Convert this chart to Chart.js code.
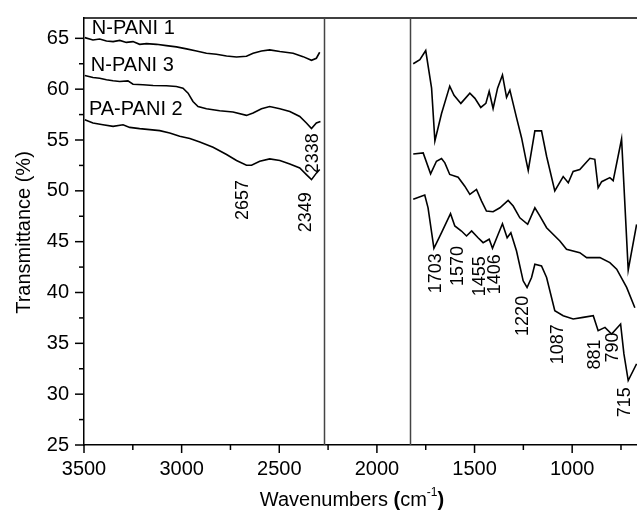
<!DOCTYPE html>
<html>
<head>
<meta charset="utf-8">
<script src="https://cdn.jsdelivr.net/npm/chart.js@4/dist/chart.umd.min.js"></script>
<style>
  html, body { margin: 0; padding: 0; background: #fff; }
  #ftir { display: block; }
</style>
</head>
<body>
<canvas id="ftir" width="637" height="510"></canvas>
<script>
// series names
var seriesNames = ['N-PANI 1', 'N-PANI 3', 'PA-PANI 2'];

// N-PANI 1, high wavenumber part and fingerprint part
var nPani1LeftWave = [3496, 3454, 3420, 3385, 3351, 3317, 3283, 3249, 3215, 3180, 3129, 3078, 3027, 2975, 2924, 2873, 2822, 2770, 2719, 2668, 2634, 2591, 2549, 2497, 2429, 2378, 2335, 2310, 2293];
var nPani1LeftT = [65.07, 64.84, 64.94, 64.74, 64.68, 64.8, 64.6, 64.68, 64.41, 64.48, 64.41, 64.28, 64.16, 63.96, 63.76, 63.53, 63.43, 63.27, 63.17, 63.24, 63.53, 63.76, 63.86, 63.7, 63.53, 63.2, 62.84, 63.04, 63.63];
var nPani1RightWave = [1814, 1780, 1750, 1720, 1703, 1669, 1627, 1605, 1570, 1524, 1498, 1468, 1442, 1425, 1405, 1382, 1357, 1336, 1319, 1285, 1259, 1237, 1225, 1191, 1157, 1131, 1089, 1046, 1020, 995, 961, 909, 884, 867, 849, 807, 790, 747, 713, 670];
var nPani1RightT = [62.5, 62.9, 63.8, 60.1, 54.9, 57.6, 60.3, 59.4, 58.6, 59.6, 59.1, 58.2, 58.6, 59.8, 58.1, 60.1, 61.4, 59.2, 59.9, 57.2, 55.2, 53.1, 52.0, 55.9, 55.9, 53.4, 50.0, 51.4, 50.8, 51.9, 52.1, 53.2, 53.1, 50.3, 50.9, 51.3, 51.0, 55.1, 42.2, 46.7];

// N-PANI 3
var nPani3LeftWave = [3496, 3454, 3420, 3385, 3351, 3317, 3275, 3249, 3198, 3146, 3078, 3027, 2993, 2967, 2942, 2916, 2873, 2805, 2737, 2668, 2634, 2591, 2549, 2497, 2446, 2395, 2361, 2335, 2310, 2289];
var nPani3LeftT = [61.34, 61.15, 61.08, 60.92, 60.82, 60.75, 60.82, 60.49, 60.43, 60.36, 60.33, 60.26, 60.1, 59.61, 58.79, 58.3, 58.08, 57.88, 57.75, 57.42, 57.65, 58.08, 58.3, 58.08, 57.81, 57.32, 56.67, 56.12, 56.67, 56.83];
var nPani3RightWave = [1814, 1763, 1725, 1695, 1669, 1652, 1627, 1584, 1550, 1524, 1490, 1464, 1439, 1405, 1370, 1328, 1302, 1268, 1228, 1191, 1165, 1131, 1063, 1029, 961, 926, 858, 807, 772, 721, 679];
var nPani3RightT = [53.63, 53.73, 51.67, 52.91, 53.18, 52.75, 51.61, 51.34, 50.46, 49.65, 50.14, 48.99, 48.01, 47.94, 48.33, 49.06, 48.5, 47.35, 46.71, 48.33, 47.52, 46.37, 45.07, 44.25, 43.92, 43.43, 43.43, 42.94, 42.29, 40.5, 38.5];

// PA-PANI 2
var paPani2LeftWave = [3496, 3454, 3403, 3351, 3300, 3266, 3215, 3163, 3112, 3061, 3010, 2958, 2907, 2839, 2770, 2719, 2668, 2642, 2600, 2549, 2497, 2446, 2395, 2361, 2335, 2310, 2293];
var paPani2LeftT = [57.0, 56.67, 56.5, 56.34, 56.5, 56.24, 56.12, 56.02, 55.92, 55.69, 55.36, 55.14, 54.8, 54.28, 53.57, 52.98, 52.52, 52.52, 52.91, 53.14, 52.98, 52.65, 52.25, 51.6, 51.1, 51.74, 52.1];
var paPani2RightWave = [1814, 1755, 1738, 1708, 1669, 1623, 1601, 1567, 1541, 1515, 1482, 1456, 1425, 1408, 1379, 1357, 1333, 1314, 1285, 1251, 1231, 1208, 1191, 1157, 1131, 1089, 1046, 995, 944, 892, 867, 832, 798, 752, 735, 713, 670];
var paPani2RightT = [49.16, 49.58, 48.33, 44.35, 45.88, 47.75, 46.54, 46.05, 45.56, 46.05, 45.39, 44.9, 45.24, 44.35, 45.73, 46.76, 45.39, 45.88, 44.08, 41.15, 40.49, 41.47, 42.78, 42.62, 41.47, 38.2, 37.72, 37.39, 37.55, 37.72, 36.25, 36.57, 35.92, 36.9, 33.96, 31.34, 32.98];

// axis ticks
var xMajorTicks = [3500, 3000, 2500, 2000, 1500, 1000];
var xMinorTicks = [3250, 2750, 2250, 1750, 1250, 750];
var yMajorTicks = [25, 30, 35, 40, 45, 50, 55, 60, 65];
var yMinorTicks = [27.5, 32.5, 37.5, 42.5, 47.5, 52.5, 57.5, 62.5];

// axis break (no data recorded between these two wavenumbers)
var breakFrom = 2270;
var breakTo = 1831;

var FONT = "'Liberation Sans', Arial, Helvetica, sans-serif";
Chart.defaults.font.family = FONT;
Chart.defaults.color = '#000';

function toPoints(leftW, leftT, rightW, rightT) {
    var pts = [];
    for (var i = 0; i < leftW.length; i++) pts.push({x: leftW[i], y: leftT[i]});
    pts.push({x: (breakFrom + breakTo) / 2, y: null});
    for (var j = 0; j < rightW.length; j++) pts.push({x: rightW[j], y: rightT[j]});
    return pts;
}

// where the text notes sit, in data units
var seriesNotes = [
    {text: seriesNames[0], x: 3460, y: 65.95},
    {text: seriesNames[1], x: 3465, y: 62.3},
    {text: seriesNames[2], x: 3475, y: 58.0}
];
var peakNotes = [
    {text: '2657', x: 2684, y: 49.1},
    {text: '2349', x: 2362, y: 47.9},
    {text: '2338', x: 2326, y: 53.7},
    {text: '1703', x: 1695, y: 41.9},
    {text: '1570', x: 1584, y: 42.6},
    {text: '1455', x: 1473, y: 41.6},
    {text: '1406', x: 1396, y: 41.8},
    {text: '1220', x: 1251, y: 37.7},
    {text: '1087', x: 1072, y: 34.9},
    {text: '881', x: 884, y: 33.9},
    {text: '790', x: 792, y: 34.6},
    {text: '715', x: 730, y: 29.2}
];

var decorPlugin = {
    id: 'decor',
    afterDraw: function(chart) {
        var ctx = chart.ctx;
        var area = chart.chartArea;
        var xs = chart.scales.x;
        var ys = chart.scales.y;
        ctx.save();

        // top frame line
        ctx.strokeStyle = '#000';
        ctx.lineWidth = 1.5;
        ctx.beginPath();
        ctx.moveTo(area.left, area.top);
        ctx.lineTo(area.right, area.top);
        ctx.stroke();

        // break lines
        ctx.strokeStyle = '#444';
        ctx.lineWidth = 1.5;
        [breakFrom, breakTo].forEach(function(w) {
            var px = Math.round(xs.getPixelForValue(w)) + 0.5;
            ctx.beginPath();
            ctx.moveTo(px, area.top);
            ctx.lineTo(px, area.bottom);
            ctx.stroke();
        });

        // tick marks
        ctx.strokeStyle = '#000';
        ctx.lineWidth = 1.5;
        function xTick(v, len) {
            var px = xs.getPixelForValue(v);
            ctx.beginPath();
            ctx.moveTo(px, area.bottom);
            ctx.lineTo(px, area.bottom + len);
            ctx.stroke();
        }
        function yTick(v, len) {
            var py = ys.getPixelForValue(v);
            ctx.beginPath();
            ctx.moveTo(area.left, py);
            ctx.lineTo(area.left - len, py);
            ctx.stroke();
        }
        xMajorTicks.forEach(function(v) { xTick(v, 8); });
        xMinorTicks.forEach(function(v) { xTick(v, 5); });
        yMajorTicks.forEach(function(v) { yTick(v, 9); });
        yMinorTicks.forEach(function(v) { yTick(v, 5); });

        ctx.fillStyle = '#000';

        // series names
        ctx.font = '20px ' + FONT;
        ctx.textAlign = 'left';
        ctx.textBaseline = 'middle';
        seriesNotes.forEach(function(n) {
            ctx.fillText(n.text, xs.getPixelForValue(n.x), ys.getPixelForValue(n.y));
        });

        // peak positions, rotated
        ctx.font = '18px ' + FONT;
        ctx.textAlign = 'center';
        peakNotes.forEach(function(n) {
            ctx.save();
            ctx.translate(xs.getPixelForValue(n.x), ys.getPixelForValue(n.y));
            ctx.rotate(-Math.PI / 2);
            ctx.fillText(n.text, 0, 0);
            ctx.restore();
        });

        // y axis title
        ctx.save();
        ctx.font = '20px ' + FONT;
        ctx.translate(24, (area.top + area.bottom) / 2 + 1);
        ctx.rotate(-Math.PI / 2);
        ctx.textAlign = 'center';
        ctx.textBaseline = 'middle';
        ctx.fillText('Transmittance (%)', 0, 0);
        ctx.restore();

        // x axis title with superscript
        var parts = [
            {t: 'Wavenumbers ', f: '20px ', dy: 0},
            {t: '(', f: 'bold 20px ', dy: 0},
            {t: 'cm', f: '20px ', dy: 0},
            {t: '-1', f: '12px ', dy: -10},
            {t: ')', f: 'bold 20px ', dy: 0}
        ];
        var total = 0;
        parts.forEach(function(p) { ctx.font = p.f + FONT; p.w = ctx.measureText(p.t).width; total += p.w; });
        var cx = 352 - total / 2;
        var base = 506;
        ctx.textAlign = 'left';
        ctx.textBaseline = 'alphabetic';
        parts.forEach(function(p) {
            ctx.font = p.f + FONT;
            ctx.fillText(p.t, cx, base + p.dy);
            cx += p.w;
        });

        ctx.restore();
    }
};

var lineStyle = {
    borderColor: '#000',
    borderWidth: 1.6,
    pointRadius: 0,
    fill: false,
    tension: 0,
    spanGaps: false
};

new Chart(document.getElementById('ftir').getContext('2d'), {
    type: 'line',
    data: {
        datasets: [
            Object.assign({label: seriesNames[0], data: toPoints(nPani1LeftWave, nPani1LeftT, nPani1RightWave, nPani1RightT)}, lineStyle),
            Object.assign({label: seriesNames[1], data: toPoints(nPani3LeftWave, nPani3LeftT, nPani3RightWave, nPani3RightT)}, lineStyle),
            Object.assign({label: seriesNames[2], data: toPoints(paPani2LeftWave, paPani2LeftT, paPani2RightWave, paPani2RightT)}, lineStyle)
        ]
    },
    options: {
        responsive: false,
        animation: false,
        layout: { padding: { top: 16, right: 0, left: 0, bottom: 0 } },
        plugins: {
            legend: { display: false },
            tooltip: { enabled: false }
        },
        scales: {
            x: {
                type: 'linear',
                reverse: true,
                min: 668,
                max: 3500,
                afterBuildTicks: function(scale) {
                    scale.ticks = xMajorTicks.map(function(v) { return {value: v}; });
                },
                afterFit: function(scale) { scale.height = 65; },
                grid: { drawOnChartArea: false, color: 'rgba(0,0,0,0)', tickLength: 8 },
                border: { display: true, color: '#000', width: 1.5 },
                ticks: {
                    font: { size: 20 },
                    color: '#000',
                    padding: 4,
                    maxRotation: 0,
                    autoSkip: false,
                    callback: function(value) { return String(value); }
                }
            },
            y: {
                min: 25,
                max: 67,
                afterBuildTicks: function(scale) {
                    scale.ticks = yMajorTicks.map(function(v) { return {value: v}; });
                },
                afterFit: function(scale) { scale.width = 84; },
                grid: { drawOnChartArea: false, color: 'rgba(0,0,0,0)', tickLength: 9 },
                border: { display: true, color: '#000', width: 1.5 },
                ticks: {
                    font: { size: 20 },
                    color: '#000',
                    padding: 6,
                    callback: function(value) { return String(value); }
                }
            }
        }
    },
    plugins: [decorPlugin]
});
</script>
</body>
</html>
